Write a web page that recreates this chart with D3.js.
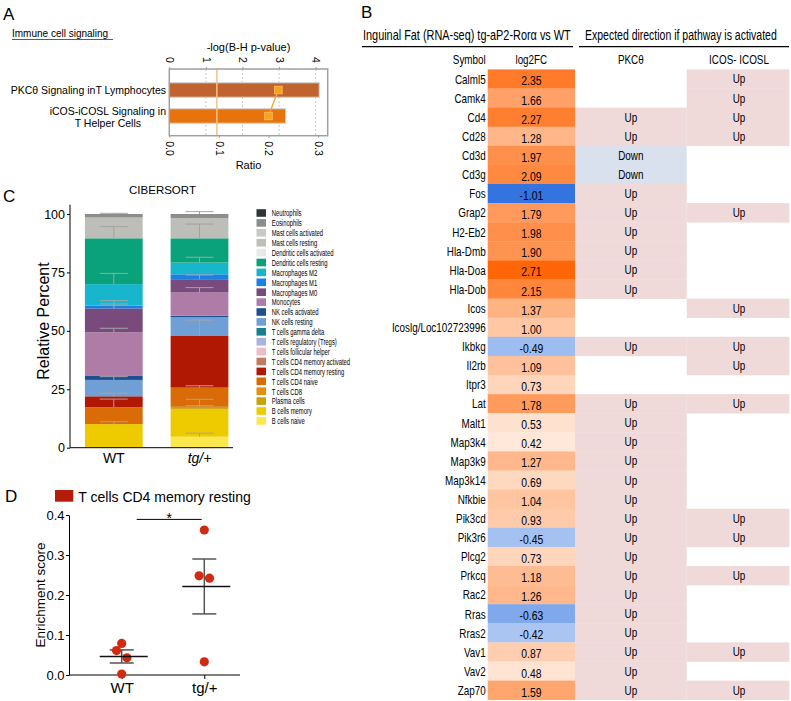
<!DOCTYPE html>
<html>
<head>
<meta charset="utf-8">
<script src="https://cdn.jsdelivr.net/npm/d3@7"></script>
<style>
body { margin: 0; background: #fff; }
svg text { font-family: "Liberation Sans", Arial, Helvetica, sans-serif; fill: #000; }
</style>
</head>
<body>
<div id="fig"></div>
<script>
// ---- A: IPA pathways
const pathwayLabels = [["PKCθ Signaling inT Lymphocytes"], ["iCOS-iCOSL Signaling in", "T Helper Cells"]];
const pathwayNegLogP = [4.1, 3.18];
const pathwayRatio = [0.22, 0.2];
const pathwayColors = ["#c1632e", "#e8720c"];
const pThreshold = 1.3;
const pTicks = [0, 1, 2, 3, 4];
const ratioTicks = [0, 0.1, 0.2, 0.3];

// ---- B: gene table
const symbols = ["Calml5","Camk4","Cd4","Cd28","Cd3d","Cd3g","Fos","Grap2","H2-Eb2","Hla-Dmb","Hla-Doa","Hla-Dob","Icos","Icoslg/Loc102723996","Ikbkg","Il2rb","Itpr3","Lat","Malt1","Map3k4","Map3k9","Map3k14","Nfkbie","Pik3cd","Pik3r6","Plcg2","Prkcq","Rac2","Rras","Rras2","Vav1","Vav2","Zap70"];
const log2FC = [2.35,1.66,2.27,1.28,1.97,2.09,-1.01,1.79,1.98,1.90,2.71,2.15,1.37,1.00,-0.49,1.09,0.73,1.78,0.53,0.42,1.27,0.69,1.04,0.93,-0.45,0.73,1.18,1.26,-0.63,-0.42,0.87,0.48,1.59];
const pkcDir = ["","","Up","Up","Down","Down","Up","Up","Up","Up","Up","Up","","","Up","","","Up","Up","Up","Up","Up","Up","Up","Up","Up","Up","Up","Up","Up","Up","Up","Up"];
const icosDir = ["Up","Up","Up","Up","","","","Up","","","","","Up","","Up","Up","","Up","","","","","","Up","Up","","Up","","","","Up","","Up"];

// ---- C: CIBERSORT (legend order, top of stack first)
const cellTypes = ["Neutrophils","Eosinophils","Mast cells activated","Mast cells resting","Dendritic cells activated","Dendritic cells resting","Macrophages M2","Macrophages M1","Macrophages M0","Monocytes","NK cells activated","NK cells resting","T cells gamma delta","T cells regulatory (Tregs)","T cells follicular helper","T cells CD4 memory activated","T cells CD4 memory resting","T cells CD4 naive","T cells CD8","Plasma cells","B cells memory","B cells naive"];
const cellColors = ["#2f3536","#8d8d8d","#c9cac4","#bdbeb9","#e8e8e8","#0aa27a","#18b6cc","#1a80e8","#784b7c","#ae7ca6","#1e4f8e","#6f9fd5","#16808f","#aab3db","#efbccb","#c27b5e","#b01804","#d96c06","#e4900c","#c8a208","#eeca00","#fce84c"];
const groupsC = ["WT", "tg/+"];
const wtPct = [0.1,1.4,0,8.9,0,19.6,9.2,1.2,10.2,18.7,1.7,7.0,0,0,0,0,4.7,7.2,0,0,10.1,0];
const tgPct = [0.1,1.6,0,8.7,0,10.4,5.0,2.1,5.7,9.9,0.7,8.0,0,0,0,0,22.1,8.2,0,0.9,11.9,4.7];
const wtSD = [0.3,0,0,0,0,5.0,4.6,2.1,1.9,1.7,0,1.4,0,0,0,0,1.3,3.5,0,0,1.0,0];
const tgSD = [1.0,0,0,0,0,6.1,2.3,0,1.8,2.1,0,0,0,0,0,0,6.8,0.8,0,3.2,1.4,1.5];
const pctTicks = [0, 25, 50, 75, 100];

// ---- D: enrichment score
const groupsD = ["WT", "tg/+"];
const wtScore = [0.079, 0.061, 0.043, 0.0025];
const tgScore = [0.3625, 0.248, 0.242, 0.033];
const scoreTicks = [0, 0.1, 0.2, 0.3, 0.4];

const svg = d3.select("#fig").append("svg").attr("width", 791).attr("height", 701);
svg.append("rect").attr("width", 791).attr("height", 701).attr("fill", "#fff");

function panelLetter(t, x, y) {
    svg.append("text").attr("x", x).attr("y", y).attr("font-size", 17).text(t);
}

// condensed text (the original uses a narrow Helvetica)
function squeeze(g, x, y, txt, size, anchor, sx) {
    return g.append("text")
        .attr("transform", `translate(${x},${y}) scale(${sx},1)`)
        .attr("text-anchor", anchor)
        .attr("font-size", size)
        .text(txt);
}
// same, but squeezed to a given width
function squeezeTo(g, x, y, txt, size, width) {
    let t = g.append("text").attr("font-size", size).text(txt);
    let w = t.node().getComputedTextLength();
    t.attr("transform", `translate(${x},${y}) scale(${width / w},1)`);
    return t;
}

// ================= A =================
let a = svg.append("g");
panelLetter("A", 3, 20);
a.append("text").attr("x", 12).attr("y", 37).attr("font-size", 10).text("Immune cell signaling");
a.append("line").attr("x1", 12).attr("x2", 113).attr("y1", 39.5).attr("y2", 39.5).attr("stroke", "#333").attr("stroke-width", 0.8);

let boxL = 169.3, boxR = 327.7, boxT = 69, boxB = 135.7;
let xP = d3.scaleLinear().domain([0, 4.33]).range([boxL, boxR]);
let xR = d3.scaleLinear().domain([0, 0.3195]).range([boxL, boxR]);
let yA = d3.scalePoint().domain(d3.range(pathwayLabels.length)).range([90, 116]);

a.selectAll(".grid").data(pTicks.filter(d => d > 0)).enter().append("line")
    .attr("x1", d => xP(d)).attr("x2", d => xP(d))
    .attr("y1", boxT).attr("y2", boxB)
    .attr("stroke", "#c8c8c8").attr("stroke-dasharray", "2,2");

a.selectAll(".bar").data(pathwayNegLogP).enter().append("rect")
    .attr("x", xP(0))
    .attr("y", (d, i) => yA(i) - 7.3)
    .attr("width", d => xP(d) - xP(0))
    .attr("height", 14.6)
    .attr("fill", (d, i) => pathwayColors[i])
    .attr("stroke", "#d4d4d4").attr("stroke-width", 1.2);

a.append("line").attr("x1", xP(pThreshold)).attr("x2", xP(pThreshold))
    .attr("y1", boxT).attr("y2", boxB)
    .attr("stroke", "#f0c48a").attr("stroke-width", 1.5);

a.append("path")
    .datum(pathwayRatio)
    .attr("d", d3.line().x(d => xR(d)).y((d, i) => yA(i)))
    .attr("fill", "none").attr("stroke", "#f5a329").attr("stroke-width", 1.3);
a.selectAll(".pt").data(pathwayRatio).enter().append("rect")
    .attr("x", d => xR(d) - 3.8).attr("y", (d, i) => yA(i) - 3.8)
    .attr("width", 7.6).attr("height", 7.6)
    .attr("fill", "#f7a11d").attr("stroke", "#fbc060").attr("stroke-width", 0.8);

a.append("rect").attr("x", boxL).attr("y", boxT).attr("width", boxR - boxL).attr("height", boxB - boxT)
    .attr("fill", "none").attr("stroke", "#a0a0a0").attr("stroke-width", 1.5);

let topAx = a.append("g").attr("transform", `translate(0,${boxT})`)
    .call(d3.axisTop(xP).tickValues(pTicks).tickSize(2).tickFormat(d3.format("d")));
topAx.select(".domain").remove();
topAx.selectAll("line").attr("stroke", "#a0a0a0");
topAx.selectAll("text").attr("transform", "rotate(90)").attr("x", -12).attr("y", 0).attr("dy", "0.35em")
    .attr("text-anchor", "start").attr("font-size", 10.5).attr("font-family", null);

let botAx = a.append("g").attr("transform", `translate(0,${boxB})`)
    .call(d3.axisBottom(xR).tickValues(ratioTicks).tickSize(2).tickFormat(d3.format(".1f")));
botAx.select(".domain").remove();
botAx.selectAll("line").attr("stroke", "#a0a0a0");
botAx.selectAll("text").attr("transform", "rotate(90)").attr("x", 5.5).attr("y", 0).attr("dy", "0.35em")
    .attr("text-anchor", "start").attr("font-size", 10.5).attr("font-family", null);

a.append("text").attr("x", (boxL + boxR) / 2).attr("y", 51).attr("text-anchor", "middle").attr("font-size", 11).text("-log(B-H p-value)");
a.append("text").attr("x", (boxL + boxR) / 2).attr("y", 169).attr("text-anchor", "middle").attr("font-size", 11).text("Ratio");

pathwayLabels.forEach((lines, i) => {
    let t = a.append("text").attr("font-size", 10.5);
    if (lines.length === 1) {
        t.attr("x", 166).attr("y", yA(i) + 4).attr("text-anchor", "end").text(lines[0]);
    } else {
        t.attr("text-anchor", "middle");
        lines.forEach((s, k) => t.append("tspan").attr("y", yA(i) - 1.5 + k * 12.2).text(s));
        let w = t.select("tspan").node().getComputedTextLength();
        t.selectAll("tspan").attr("x", 166 - w / 2);
    }
});

// ================= B =================
let b = svg.append("g");
panelLetter("B", 361, 18);
const rowTop = 69.4, rowH = 19.1;
const yB = d3.scaleBand().domain(symbols).range([rowTop, rowTop + symbols.length * rowH]);
const fcColor = d3.scaleLinear().domain([-1.01, 0, 2.71]).range(["#3474e0", "#ffffff", "#ff6608"]);
const colFC = [487.7, 575], colPKC = [575, 686.7], colICOS = [686.7, 789.3];
const dirColor = {"Up": "#efd9d9", "Down": "#d9e1ee"};

squeezeTo(b, 363, 40, "Inguinal Fat (RNA-seq)  tg-aP2-Rorα vs WT", 14, 208);
squeezeTo(b, 585, 40, "Expected direction if pathway is activated", 14, 192);
b.append("line").attr("x1", 362).attr("x2", 573).attr("y1", 46.7).attr("y2", 46.7).attr("stroke", "#000").attr("stroke-width", 1.2);
b.append("line").attr("x1", 579).attr("x2", 789).attr("y1", 46.7).attr("y2", 46.7).attr("stroke", "#000").attr("stroke-width", 1.2);

squeeze(b, 485.7, 64, "Symbol", 13, "end", 0.76);
squeeze(b, (colFC[0] + colFC[1]) / 2, 64, "log2FC", 13, "middle", 0.76);
squeeze(b, (colPKC[0] + colPKC[1]) / 2, 64, "PKCθ", 13, "middle", 0.76);
squeeze(b, (colICOS[0] + colICOS[1]) / 2 + 1, 64, "ICOS- ICOSL", 13, "middle", 0.76);

symbols.forEach((s, i) => {
    let y0 = yB(s);
    b.append("rect").attr("x", colFC[0]).attr("y", y0).attr("width", colFC[1] - colFC[0]).attr("height", yB.bandwidth() + 0.3)
        .attr("fill", fcColor(log2FC[i]));
    [[pkcDir, colPKC], [icosDir, colICOS]].forEach(([dir, col]) => {
        if (!dir[i]) return;
        b.append("rect").attr("x", col[0]).attr("y", y0).attr("width", col[1] - col[0]).attr("height", yB.bandwidth() + 0.3)
            .attr("fill", dirColor[dir[i]]);
    });
});
symbols.forEach((s, i) => {
    let y0 = yB(s);
    squeeze(b, 485.7, y0 + 14.3, s, 13, "end", 0.76);
    squeeze(b, (colFC[0] + colFC[1]) / 2, y0 + 16, log2FC[i].toFixed(2), 13, "middle", 0.8);
    if (pkcDir[i]) squeeze(b, (colPKC[0] + colPKC[1]) / 2, y0 + 14, pkcDir[i], 13, "middle", 0.76);
    if (icosDir[i]) squeeze(b, (colICOS[0] + colICOS[1]) / 2 + 1, y0 + 14, icosDir[i], 13, "middle", 0.76);
});

// ================= C =================
let c = svg.append("g");
panelLetter("C", 3, 202);
c.append("text").attr("x", 162.5).attr("y", 194).attr("text-anchor", "middle").attr("font-size", 11.5).text("CIBERSORT");

const yC = d3.scaleLinear().domain([0, 100]).range([447.7, 214]);
const xC = d3.scaleBand().domain(groupsC).range([70, 243.3]).paddingInner(0.326).paddingOuter(0.174);
const colorC = d3.scaleOrdinal().domain(cellTypes).range(cellColors);

const tableC = groupsC.map((g, gi) => {
    let row = {group: g};
    cellTypes.forEach((ct, k) => row[ct] = (gi === 0 ? wtPct : tgPct)[k]);
    return row;
});
const stackC = d3.stack().keys(cellTypes.slice().reverse())(tableC);

c.selectAll(".layer").data(stackC).enter().append("g")
    .attr("fill", d => colorC(d.key))
    .selectAll("rect").data(d => d).enter().append("rect")
    .attr("x", d => xC(d.data.group))
    .attr("y", d => yC(d[1]))
    .attr("width", xC.bandwidth())
    .attr("height", d => yC(d[0]) - yC(d[1]));

// error bars (SD, upward from the top of each segment)
stackC.forEach(layer => {
    let k = cellTypes.indexOf(layer.key);
    layer.forEach((d, gi) => {
        let sd = (gi === 0 ? wtSD : tgSD)[k];
        if (!sd) return;
        let cx = xC(d.data.group) + xC.bandwidth() / 2;
        c.append("line").attr("x1", cx).attr("x2", cx).attr("y1", yC(d[1])).attr("y2", yC(d[1] + sd))
            .attr("stroke", "#a3a3a3").attr("stroke-width", 1);
        c.append("line").attr("x1", cx - 14).attr("x2", cx + 14).attr("y1", yC(d[1] + sd)).attr("y2", yC(d[1] + sd))
            .attr("stroke", "#a3a3a3").attr("stroke-width", 1);
    });
});

let yAxC = c.append("g").attr("transform", "translate(70,0)")
    .call(d3.axisLeft(yC).tickValues(pctTicks).tickSize(3).tickSizeOuter(0).tickPadding(2));
yAxC.selectAll("text").attr("font-size", 12.5).attr("font-family", null);
yAxC.select(".domain").attr("d", `M0,${yC(0)}V${yC(104)}`);
c.append("line").attr("x1", 70).attr("x2", 233).attr("y1", yC(0)).attr("y2", yC(0)).attr("stroke", "#000");
groupsC.forEach(g => {
    c.append("text").attr("x", xC(g) + xC.bandwidth() / 2).attr("y", 463).attr("text-anchor", "middle")
        .attr("font-size", 14).attr("font-style", g === "WT" ? "normal" : "italic").text(g);
});
c.append("text").attr("transform", "translate(49,321) rotate(-90)").attr("text-anchor", "middle")
    .attr("font-size", 16).text("Relative Percent");

// legend
let legC = c.append("g");
cellTypes.forEach((ct, k) => {
    let ly = 213 + k * 9.9;
    legC.append("rect").attr("x", 256.5).attr("y", ly - 3.8).attr("width", 9.5).attr("height", 7.6).attr("fill", colorC(ct));
    squeeze(legC, 271.7, ly + 3.3, ct, 9.3, "start", 0.635);
});

// ================= D =================
let dP = svg.append("g");
panelLetter("D", 5, 502);
dP.append("rect").attr("x", 55).attr("y", 490).attr("width", 18.3).attr("height", 11.7).attr("fill", "#b51c0a");
dP.append("text").attr("x", 78.3).attr("y", 501.5).attr("font-size", 14).text("T cells CD4 memory resting");

const yD = d3.scaleLinear().domain([0, 0.4]).range([675, 515]);
const xD = d3.scalePoint().domain(groupsD).range([121.7, 204.3]);

let yAxD = dP.append("g").attr("transform", "translate(69,0)")
    .call(d3.axisLeft(yD).tickValues(scoreTicks).tickSize(3).tickSizeOuter(0).tickPadding(1.5).tickFormat(d3.format(".1f")));
yAxD.selectAll("text").attr("font-size", 13).attr("font-family", null);
let xAxD = dP.append("g").attr("transform", `translate(0,${yD(0)})`)
    .call(d3.axisBottom(xD).tickSize(4).tickSizeOuter(0).tickPadding(3));
xAxD.select(".domain").attr("d", "M69,0H240");
xAxD.selectAll("text").attr("font-size", 15).attr("font-family", null);
dP.append("text").attr("transform", "translate(45,595) rotate(-90)").attr("text-anchor", "middle")
    .attr("font-size", 13.5).text("Enrichment score");

// spread points that would overlap vertically
function swarm(vals) {
    let order = vals.map((v, i) => i).sort((p, q) => vals[q] - vals[p]);
    let clusters = [];
    order.forEach(i => {
        let last = clusters[clusters.length - 1];
        if (last && yD(vals[i]) - yD(vals[last[last.length - 1]]) < 12) last.push(i);
        else clusters.push([i]);
    });
    let off = new Array(vals.length).fill(0);
    clusters.forEach(cl => {
        cl.forEach((i, k) => {
            let kk = cl.length % 2 ? k : k + 1;
            off[i] = kk === 0 ? 0 : (kk % 2 ? -5.2 : 5.2);
        });
    });
    return off;
}

[wtScore, tgScore].forEach((vals, gi) => {
    let g = groupsD[gi], cx = xD(g);
    let m = d3.mean(vals), sem = d3.deviation(vals) / Math.sqrt(vals.length);
    dP.append("line").attr("x1", cx).attr("x2", cx).attr("y1", yD(m + sem)).attr("y2", yD(m - sem)).attr("stroke", "#555").attr("stroke-width", 1.5);
    [m + sem, m - sem].forEach(v => {
        dP.append("line").attr("x1", cx - 12).attr("x2", cx + 12).attr("y1", yD(v)).attr("y2", yD(v)).attr("stroke", "#555").attr("stroke-width", 1.5);
    });
    let off = swarm(vals);
    dP.selectAll(".p" + gi).data(vals).enter().append("circle")
        .attr("cx", (d, i) => cx + off[i]).attr("cy", d => yD(d)).attr("r", 4.6)
        .attr("fill", "#d12a12");
    dP.append("line").attr("x1", cx - 24 + 2).attr("x2", cx + 24 + 2).attr("y1", yD(m)).attr("y2", yD(m)).attr("stroke", "#111").attr("stroke-width", 1.5);
});

dP.append("line").attr("x1", xD("WT") + 15).attr("x2", xD("tg/+") - 2.6).attr("y1", yD(0.389)).attr("y2", yD(0.389)).attr("stroke", "#000");
dP.append("text").attr("x", (xD("WT") + 15 + xD("tg/+") - 2.6) / 2).attr("y", 523).attr("text-anchor", "middle").attr("font-size", 14).text("*");
</script>
</body>
</html>
